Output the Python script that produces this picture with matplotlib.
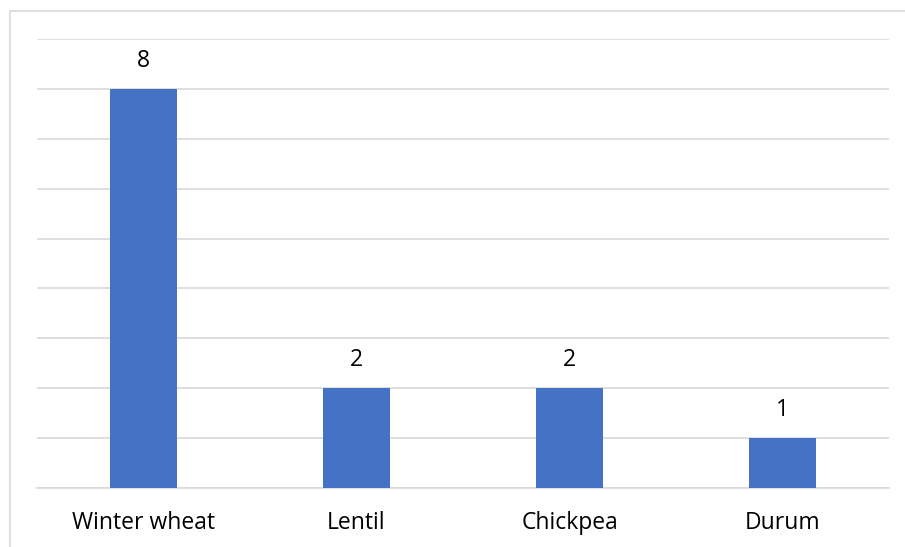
import matplotlib
matplotlib.use('Agg')
import matplotlib.pyplot as plt
from matplotlib.patches import Rectangle

crops = ['Winter wheat', 'Lentil', 'Chickpea', 'Durum']
counts = [8, 2, 2, 1]

W, H = 905, 547
fig = plt.figure(figsize=(W / 100, H / 100), dpi=100)
plt.rcParams['font.family'] = ['Open Sans', 'DejaVu Sans']

# chart frame, runs off the right and bottom edges
fig.patches.append(Rectangle((10 / W, -0.1), 1.0, (H - 11) / H + 0.1,
                             transform=fig.transFigure, fill=False,
                             edgecolor='#D9D9D9', linewidth=1.2))

ax = fig.add_axes([37 / W, 59 / H, (889 - 37) / W, (488 - 39) / H])
x = range(len(crops))
bars = ax.bar(x, counts, width=0.31, color='#4472C4', zorder=3)

ax.set_xlim(-0.5, len(crops) - 0.5)
ax.set_ylim(0, 9)
ax.set_yticks(range(0, 10))
ax.yaxis.grid(True, color='#D9D9D9', linewidth=1.2, zorder=0)
ax.tick_params(axis='y', left=False, labelleft=False)
ax.tick_params(axis='x', bottom=False, labelsize=16.5, pad=13, colors='#000000')
ax.set_xticks(list(x))
ax.set_xticklabels(crops)
for s in ['top', 'right', 'left']:
    ax.spines[s].set_visible(False)
ax.spines['bottom'].set_color('#D9D9D9')
ax.spines['bottom'].set_linewidth(1.2)

for b, v in zip(bars, counts):
    ax.annotate(str(v), (b.get_x() + b.get_width() / 2, v),
                xytext=(0, 20), textcoords='offset points',
                ha='center', va='center', fontsize=16.5)

fig.savefig('out.png', dpi=100)
